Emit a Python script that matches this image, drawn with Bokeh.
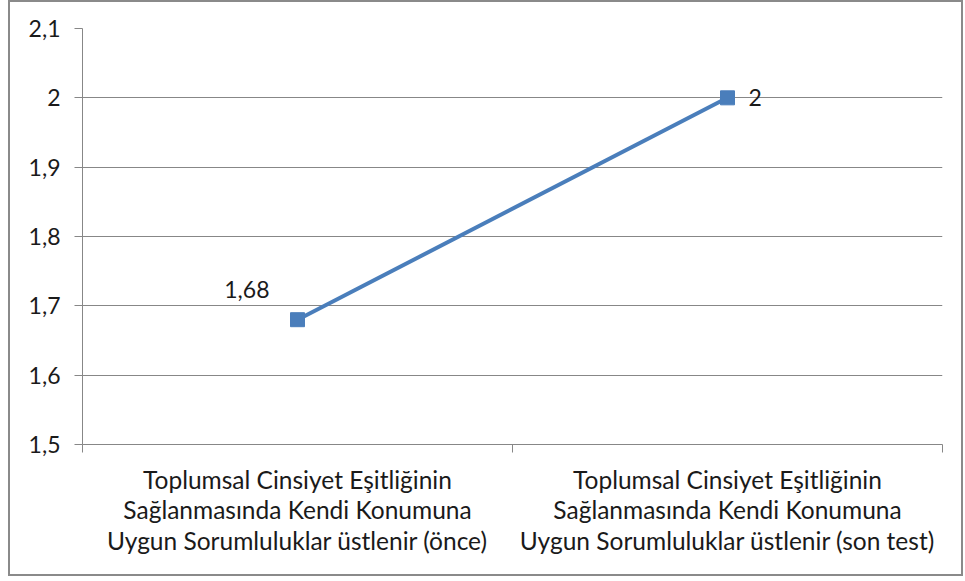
from bokeh.plotting import figure
from bokeh.models import ColumnDataSource, FixedTicker, CustomJSTickFormatter, Range1d
from bokeh.core.properties import value
from bokeh.embed import file_html
from bokeh.resources import INLINE

categories = [
    "Toplumsal Cinsiyet Eşitliğinin\nSağlanmasında Kendi Konumuna\nUygun Sorumluluklar üstlenir (önce)",
    "Toplumsal Cinsiyet Eşitliğinin\nSağlanmasında Kendi Konumuna\nUygun Sorumluluklar üstlenir (son test)",
]
values = [1.68, 2.0]
value_labels = ["1,68", "2"]
y_ticks = [1.5, 1.6, 1.7, 1.8, 1.9, 2.0, 2.1]

FONT = "Lato"
BLUE = "#4a7ebb"
GRAY = "#878787"
TXT = "#1a1a1a"

xpos = [i + 0.5 for i in range(len(categories))]

src = ColumnDataSource(dict(
    x=xpos, y=values, lab=value_labels,
    xo=[-28, 21], yo=[-30, 0],
    align=["right", "left"],
))

p = figure(width=955, height=576, output_backend="svg", toolbar_location=None,
           x_range=Range1d(0, len(categories)), y_range=Range1d(1.5, 2.1),
           min_border_left=72, min_border_right=23, min_border_top=26, min_border_bottom=134)
p.outline_line_color = None
p.background_fill_color = "white"
p.border_fill_color = "white"
p.styles = {"border": "2px solid #8a8a8a", "box-sizing": "border-box", "margin-left": "8px"}

p.line(x="x", y="y", source=src, line_color=BLUE, line_width=4)
p.scatter(x="x", y="y", source=src, marker="square", size=14, fill_color=BLUE, line_color=BLUE)
p.text(x="x", y="y", text="lab", source=src, x_offset="xo", y_offset="yo",
       text_align="align", text_baseline="middle",
       text_font=value(FONT), text_font_size="23px", text_color=TXT)

# y axis
p.yaxis.ticker = FixedTicker(ticks=y_ticks)
p.yaxis.formatter = CustomJSTickFormatter(code="""
var s = (Math.round(tick*10)/10).toString();
return s.replace('.', ',');
""")
p.yaxis.axis_line_color = GRAY
p.yaxis.major_tick_line_color = GRAY
p.yaxis.major_tick_in = 0
p.yaxis.major_tick_out = 8
p.yaxis.minor_tick_line_color = None
p.yaxis.major_label_standoff = 14
p.yaxis.major_label_text_font = FONT
p.yaxis.major_label_text_font_size = "23px"
p.yaxis.major_label_text_color = TXT

# x axis
p.xaxis.ticker = FixedTicker(ticks=xpos, minor_ticks=list(range(len(categories) + 1)))
p.xaxis.major_label_overrides = {xv: c for xv, c in zip(xpos, categories)}
p.xaxis.axis_line_color = GRAY
p.xaxis.major_tick_line_color = None
p.xaxis.minor_tick_line_color = GRAY
p.xaxis.minor_tick_in = 0
p.xaxis.minor_tick_out = 8
p.xaxis.major_label_standoff = 12
p.xaxis.major_label_text_font = FONT
p.xaxis.major_label_text_font_size = "24.5px"
p.xaxis.major_label_text_color = TXT
p.xaxis.major_label_text_line_height = 1.06

p.xgrid.grid_line_color = None
p.ygrid.grid_line_color = GRAY
p.ygrid.grid_line_width = 1

open("out.html", "w").write(file_html(p, INLINE))
